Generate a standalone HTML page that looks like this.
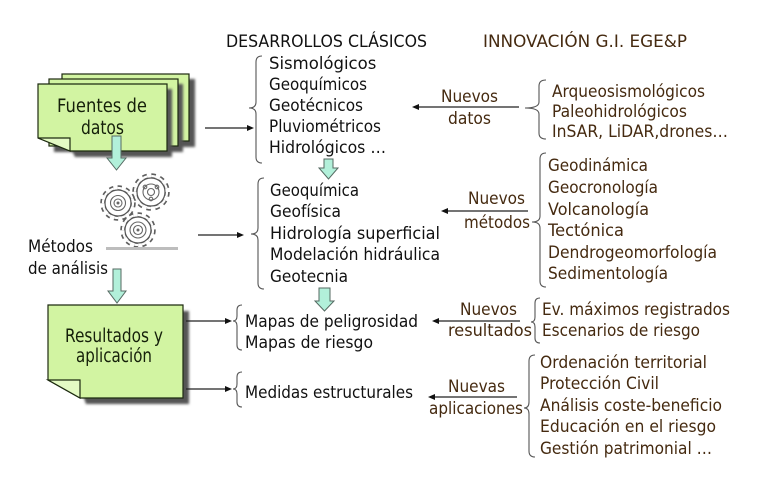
<!DOCTYPE html>
<html><head><meta charset="utf-8"><style>
html,body{margin:0;padding:0;background:#fff;}
svg{display:block;}
text{font-family:"DejaVu Sans","Liberation Sans",sans-serif;}
.k{fill:#111;font-size:16.5px;}
.b{fill:#452a10;font-size:16.5px;}
.bx{fill:#15200a;font-size:18.5px;}
.br{fill:none;stroke:#555;stroke-width:1.1;}
.ln{stroke:#222;stroke-width:1.2;}
.ah{fill:#111;}
.sheet{fill:#d2f4a2;stroke:#1d2a10;stroke-width:1.2;}
.flap{fill:#e4fac4;stroke:#1d2a10;stroke-width:1.2;}
.dn{fill:#b2f0da;stroke:#556a62;stroke-width:1;}
.t1{fill:none;stroke:#5e5e5e;stroke-width:5.5;}
.t2{fill:none;stroke:#fff;stroke-width:2.2;}
.gb{fill:#fff;stroke:#555;stroke-width:1.2;}
.gi{fill:none;stroke:#666;stroke-width:1.1;}
</style></head><body>
<svg width="768" height="496" viewBox="0 0 768 496" xmlns="http://www.w3.org/2000/svg">
<defs>
<filter id="blur" x="-10%" y="-10%" width="130%" height="130%"><feGaussianBlur stdDeviation="1.2"/></filter>
</defs>

<!-- Titles -->
<text class="k" x="226" y="47" textLength="201" lengthAdjust="spacingAndGlyphs">DESARROLLOS CLÁSICOS</text>
<text class="b" x="483" y="47" textLength="204" lengthAdjust="spacingAndGlyphs">INNOVACIÓN G.I. EGE&amp;P</text>

<!-- Fuentes de datos stacked sheets -->
<rect x="67" y="79" width="128" height="68" fill="#555" filter="url(#blur)"/>
<rect x="62" y="74" width="127" height="67" class="sheet"/>
<rect x="54" y="84" width="129" height="68" fill="#555" filter="url(#blur)"/>
<rect x="49" y="79" width="129" height="67" class="sheet"/>
<path d="M43,89 L172,89 L172,157 L75,157 Z" fill="#555" filter="url(#blur)"/>
<path d="M38,84 L167,84 L167,151 L70,151 L38,138 Z" class="sheet"/>
<path d="M38,138 L70,138 L70,151 Z" class="flap"/>
<text class="bx" x="57" y="112" textLength="90" lengthAdjust="spacingAndGlyphs">Fuentes de</text>
<text class="bx" x="81" y="134" textLength="43" lengthAdjust="spacingAndGlyphs">datos</text>

<!-- Down arrow 1 -->
<path class="dn" d="M112,136 L121,136 L121,158 L126,158 L116.5,170 L107,158 L112,158 Z"/>

<!-- Gears -->
<g>
  <circle cx="118" cy="203" r="15" class="t1" stroke-dasharray="3.9 3.9"/>
  <circle cx="118" cy="203" r="15" class="t2" stroke-dasharray="3.9 3.9"/>
  <circle cx="118" cy="203" r="13" class="gb"/>
  <circle cx="118" cy="203" r="7.5" class="gi"/>
  <circle cx="118" cy="203" r="4" class="gi"/>
  <circle cx="118" cy="203" r="1.5" fill="#666"/>
</g>
<g>
  <circle cx="151" cy="192" r="16" class="t1" stroke-dasharray="4.2 4.2"/>
  <circle cx="151" cy="192" r="16" class="t2" stroke-dasharray="4.2 4.2"/>
  <circle cx="151" cy="192" r="14" class="gb"/>
  <circle cx="151" cy="192" r="8" class="gi"/>
  <circle cx="151" cy="192" r="3.5" class="gi"/>
  <circle cx="145" cy="187" r="1.8" class="gi"/>
  <circle cx="157" cy="187" r="1.8" class="gi"/>
  <circle cx="151" cy="199" r="1.8" class="gi"/>
</g>
<g>
  <circle cx="138" cy="230" r="15" class="t1" stroke-dasharray="3.9 3.9"/>
  <circle cx="138" cy="230" r="15" class="t2" stroke-dasharray="3.9 3.9"/>
  <circle cx="138" cy="230" r="13" class="gb"/>
  <circle cx="138" cy="230" r="8" class="gi"/>
  <circle cx="138" cy="230" r="4.5" class="gi"/>
  <circle cx="138" cy="230" r="1.5" fill="#666"/>
</g>
<rect x="106" y="247" width="72" height="3" fill="#bdbdbd"/>

<text class="k" x="28" y="252" textLength="65" lengthAdjust="spacingAndGlyphs">Métodos</text>
<text class="k" x="28" y="274" textLength="80" lengthAdjust="spacingAndGlyphs">de análisis</text>

<!-- Down arrow 2 -->
<path class="dn" d="M113,269 L121,269 L121,291 L126,291 L117,303 L108,291 L113,291 Z"/>

<!-- Resultados box -->
<path d="M54,311 L189,311 L189,404 L86,404 Z" fill="#555" filter="url(#blur)"/>
<path d="M48,305 L183,305 L183,398 L80,398 L48,380 Z" class="sheet"/>
<path d="M48,380 L80,380 L80,398 Z" class="flap"/>
<text class="bx" x="65" y="342" textLength="98" lengthAdjust="spacingAndGlyphs">Resultados y</text>
<text class="bx" x="76" y="362" textLength="76" lengthAdjust="spacingAndGlyphs">aplicación</text>

<!-- Left list 1 -->
<path class="br" d="M262,56 Q256,56 256,62 L256,102 Q256,108 249,108 Q256,108 256,114 L256,157 Q256,163 262,163"/>
<text x="269" y="69" style="font-size:16.5px;fill:#111">Sismol&#243;gicos</text>
<text class="k" x="269" y="90" textLength="98" lengthAdjust="spacingAndGlyphs">Geoquímicos</text>
<text class="k" x="269" y="111" textLength="94" lengthAdjust="spacingAndGlyphs">Geotécnicos</text>
<text class="k" x="269" y="132" textLength="112" lengthAdjust="spacingAndGlyphs">Pluviométricos</text>
<text class="k" x="269" y="153" textLength="117" lengthAdjust="spacingAndGlyphs">Hidrológicos …</text>

<!-- Down arrow 3 -->
<path class="dn" d="M324,159 L333,159 L333,168 L338,168 L328.5,179 L319,168 L324,168 Z"/>

<!-- Left list 2 -->
<path class="br" d="M264,178 Q258,178 258,184 L258,228 Q258,234 251,234 Q258,234 258,240 L258,283 Q258,289 264,289"/>
<text class="k" x="270" y="196" textLength="89" lengthAdjust="spacingAndGlyphs">Geoquímica</text>
<text class="k" x="270" y="217" textLength="71" lengthAdjust="spacingAndGlyphs">Geofísica</text>
<text class="k" x="270" y="239" textLength="170" lengthAdjust="spacingAndGlyphs">Hidrología superficial</text>
<text class="k" x="270" y="260" textLength="170" lengthAdjust="spacingAndGlyphs">Modelación hidráulica</text>
<text class="k" x="270" y="282" textLength="78" lengthAdjust="spacingAndGlyphs">Geotecnia</text>

<!-- Down arrow 4 -->
<path class="dn" d="M319,288 L330,288 L330,301 L334,301 L324.5,311 L315,301 L319,301 Z"/>

<!-- Mapas -->
<path class="br" d="M242,305 Q237,305 237,310 L237,316 Q237,321 233,321 Q237,321 237,326 L237,345 Q237,350 242,350"/>
<text class="k" x="245" y="327" textLength="173" lengthAdjust="spacingAndGlyphs">Mapas de peligrosidad</text>
<text class="k" x="245" y="348" textLength="128" lengthAdjust="spacingAndGlyphs">Mapas de riesgo</text>

<path class="br" d="M242,372 Q237,372 237,377 L237,384 Q237,389 233,389 Q237,389 237,394 L237,402 Q237,407 242,407"/>
<text class="k" x="245" y="398" textLength="168" lengthAdjust="spacingAndGlyphs">Medidas estructurales</text>

<!-- Right-pointing arrows -->
<line class="ln" x1="205" y1="128" x2="248" y2="128"/><path class="ah" d="M254,128 L247,125 L247,131 Z"/>
<line class="ln" x1="198" y1="235" x2="238" y2="235"/><path class="ah" d="M244,235 L237,232 L237,238 Z"/>
<line class="ln" x1="186" y1="321" x2="226" y2="321"/><path class="ah" d="M232,321 L225,318 L225,324 Z"/>
<line class="ln" x1="186" y1="389" x2="226" y2="389"/><path class="ah" d="M232,389 L225,386 L225,392 Z"/>

<!-- Right: Nuevos datos -->
<line class="ln" x1="519" y1="107" x2="418" y2="107"/><path class="ah" d="M412,107 L419,104 L419,110 Z"/>
<text class="b" x="441" y="102" textLength="57" lengthAdjust="spacingAndGlyphs">Nuevos</text>
<text class="b" x="448" y="124" textLength="43" lengthAdjust="spacingAndGlyphs">datos</text>
<path class="br" d="M546,80 Q539,80 539,86 L539,102 Q539,108 525,108 Q539,108 539,114 L539,133 Q539,139 546,139"/>
<text class="b" x="552" y="97" textLength="153" lengthAdjust="spacingAndGlyphs">Arqueosismológicos</text>
<text class="b" x="552" y="117" textLength="135" lengthAdjust="spacingAndGlyphs">Paleohidrológicos</text>
<text class="b" x="552" y="137" textLength="176" lengthAdjust="spacingAndGlyphs">InSAR, LiDAR,drones…</text>

<!-- Nuevos métodos -->
<line class="ln" x1="528" y1="211" x2="447" y2="211"/><path class="ah" d="M441,211 L448,208 L448,214 Z"/>
<text class="b" x="468" y="204" textLength="57" lengthAdjust="spacingAndGlyphs">Nuevos</text>
<text class="b" x="464" y="228" textLength="66" lengthAdjust="spacingAndGlyphs">métodos</text>
<path class="br" d="M546,153 Q540,153 540,159 L540,216 Q540,222 532,222 Q540,222 540,228 L540,281 Q540,287 546,287"/>
<text class="b" x="548" y="171" textLength="100" lengthAdjust="spacingAndGlyphs">Geodinámica</text>
<text class="b" x="548" y="193" textLength="110" lengthAdjust="spacingAndGlyphs">Geocronología</text>
<text class="b" x="548" y="215" textLength="101" lengthAdjust="spacingAndGlyphs">Volcanología</text>
<text class="b" x="548" y="236" textLength="76" lengthAdjust="spacingAndGlyphs">Tectónica</text>
<text class="b" x="548" y="258" textLength="169" lengthAdjust="spacingAndGlyphs">Dendrogeomorfología</text>
<text class="b" x="548" y="279" textLength="120" lengthAdjust="spacingAndGlyphs">Sedimentología</text>

<!-- Nuevos resultados -->
<line class="ln" x1="520" y1="321" x2="438" y2="321"/><path class="ah" d="M432,321 L439,318 L439,324 Z"/>
<text class="b" x="460" y="315" textLength="57" lengthAdjust="spacingAndGlyphs">Nuevos</text>
<text class="b" x="448" y="336" textLength="84" lengthAdjust="spacingAndGlyphs">resultados</text>
<path class="br" d="M540,298 Q535,298 535,303 L535,317 Q535,322 531,322 Q535,322 535,327 L535,338 Q535,343 540,343"/>
<text class="b" x="542" y="315" textLength="188" lengthAdjust="spacingAndGlyphs">Ev. máximos registrados</text>
<text class="b" x="542" y="336" textLength="158" lengthAdjust="spacingAndGlyphs">Escenarios de riesgo</text>

<!-- Nuevas aplicaciones -->
<line class="ln" x1="517" y1="397" x2="434" y2="397"/><path class="ah" d="M428,397 L435,394 L435,400 Z"/>
<text class="b" x="448" y="392" textLength="57" lengthAdjust="spacingAndGlyphs">Nuevas</text>
<text class="b" x="429" y="414" textLength="94" lengthAdjust="spacingAndGlyphs">aplicaciones</text>
<path class="br" d="M535,355 Q529,355 529,361 L529,402 Q529,408 524,408 Q529,408 529,414 L529,451 Q529,457 535,457"/>
<text class="b" x="540" y="368" textLength="167" lengthAdjust="spacingAndGlyphs">Ordenación territorial</text>
<text class="b" x="540" y="389" textLength="119" lengthAdjust="spacingAndGlyphs">Protección Civil</text>
<text class="b" x="540" y="411" textLength="182" lengthAdjust="spacingAndGlyphs">Análisis coste-beneficio</text>
<text class="b" x="540" y="432" textLength="176" lengthAdjust="spacingAndGlyphs">Educación en el riesgo</text>
<text class="b" x="540" y="454" textLength="172" lengthAdjust="spacingAndGlyphs">Gestión patrimonial …</text>
</svg>
</body></html>
